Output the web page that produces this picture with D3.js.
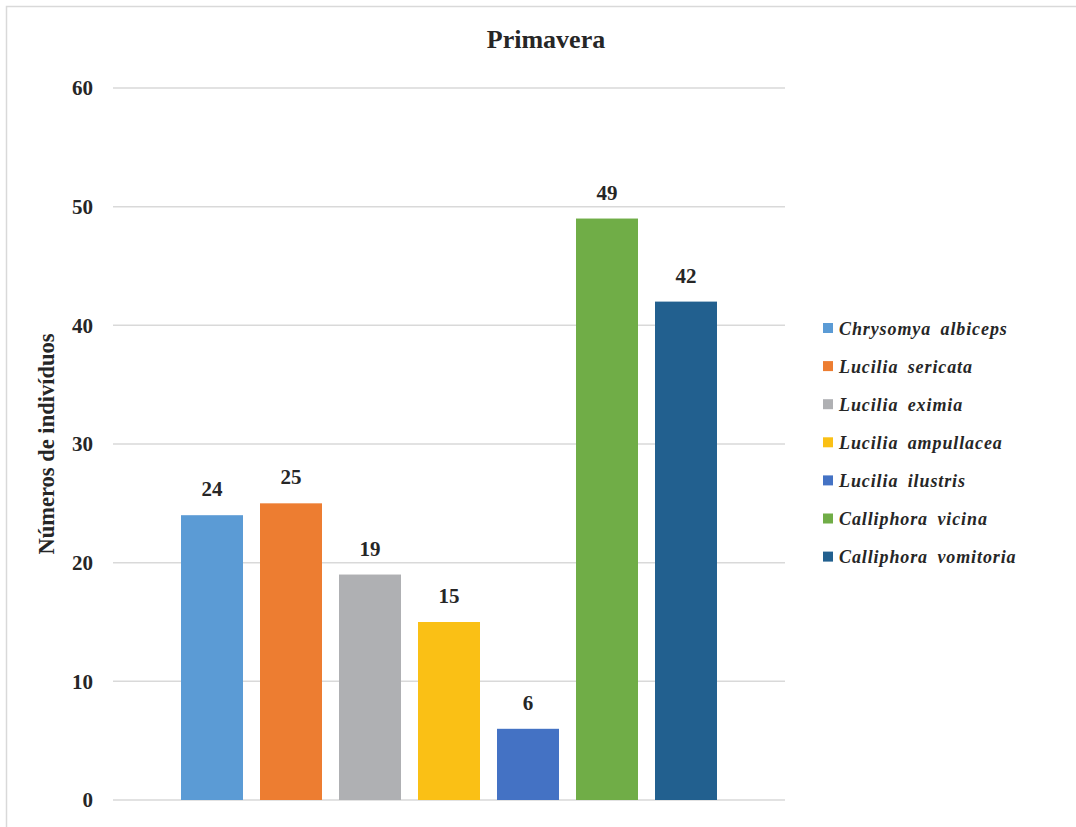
<!DOCTYPE html>
<html>
<head>
<meta charset="utf-8">
<script src="https://cdn.jsdelivr.net/npm/d3@7"></script>
<style>
  html, body { margin: 0; padding: 0; background: #fff; }
  svg { display: block; }
  text { font-family: "Liberation Serif", "Times New Roman", serif; fill: #262626; }
</style>
</head>
<body>
<svg id="chart" width="1076" height="827"></svg>
<script>
// Blowfly species caught in spring
const species = [
  "Chrysomya albiceps",
  "Lucilia sericata",
  "Lucilia eximia",
  "Lucilia ampullacea",
  "Lucilia ilustris",
  "Calliphora vicina",
  "Calliphora vomitoria"
];
const counts = [24, 25, 19, 15, 6, 49, 42];
const colors = ["#5B9BD5", "#ED7D31", "#AFB0B3", "#FAC015", "#4472C4", "#70AD47", "#22608F"];
const yTicks = [0, 10, 20, 30, 40, 50, 60];

const svg = d3.select("#chart");
const W = 1076, H = 827;

// outer chart frame
svg.append("rect")
  .attr("x", 6.5).attr("y", 6.5)
  .attr("width", W + 20).attr("height", H + 20)
  .attr("fill", "#fff")
  .attr("stroke", "#d9d9d9").attr("stroke-width", 1.5);

const plot = { left: 113, right: 785, top: 88, bottom: 800 };

const y = d3.scaleLinear().domain([0, 60]).range([plot.bottom, plot.top]);
const x = d3.scaleBand()
  .domain(species)
  .range([181, 717])
  .paddingInner(17 / 79)
  .paddingOuter(0);

// gridlines
svg.append("g")
  .selectAll("line")
  .data(yTicks)
  .join("line")
  .attr("x1", plot.left).attr("x2", plot.right)
  .attr("y1", d => y(d)).attr("y2", d => y(d))
  .attr("stroke", "#d9d9d9").attr("stroke-width", 1.5);

// y axis tick labels
const yAxis = d3.axisLeft(y).tickValues(yTicks).tickSize(0).tickPadding(20);
const gy = svg.append("g").attr("transform", `translate(${plot.left},0)`).call(yAxis);
gy.select(".domain").remove();
gy.selectAll("text")
  .attr("font-family", "Liberation Serif, serif")
  .attr("font-size", 21).attr("font-weight", "bold").attr("fill", "#262626");

// bars
svg.append("g")
  .selectAll("rect")
  .data(species)
  .join("rect")
  .attr("x", d => x(d))
  .attr("width", x.bandwidth())
  .attr("y", (d, i) => y(counts[i]))
  .attr("height", (d, i) => y(0) - y(counts[i]))
  .attr("fill", (d, i) => colors[i]);

// value labels
svg.append("g")
  .selectAll("text")
  .data(species)
  .join("text")
  .attr("x", d => x(d) + x.bandwidth() / 2)
  .attr("y", (d, i) => y(counts[i]) - 19)
  .attr("text-anchor", "middle")
  .attr("font-size", 21).attr("font-weight", "bold")
  .text((d, i) => counts[i]);

// title
svg.append("text")
  .attr("x", 546).attr("y", 48)
  .attr("text-anchor", "middle")
  .attr("font-size", 26).attr("font-weight", "bold")
  .text("Primavera");

// y axis title
svg.append("text")
  .attr("transform", `translate(54,${(plot.top + plot.bottom) / 2}) rotate(-90)`)
  .attr("text-anchor", "middle")
  .attr("font-size", 22.5).attr("font-weight", "bold")
  .text("Números de indivíduos");

// legend
const legend = svg.append("g").attr("transform", "translate(823,328)");
const rows = legend.selectAll("g")
  .data(species)
  .join("g")
  .attr("transform", (d, i) => `translate(0,${i * 38.1})`);
rows.append("rect")
  .attr("x", 0).attr("y", -5)
  .attr("width", 10).attr("height", 10)
  .attr("fill", (d, i) => colors[i]);
rows.append("text")
  .attr("x", 16).attr("y", 6.5)
  .attr("font-size", 18).attr("font-weight", "bold").attr("font-style", "italic")
  .attr("letter-spacing", 0.9).attr("word-spacing", 4)
  .text(d => d);
</script>
</body>
</html>
